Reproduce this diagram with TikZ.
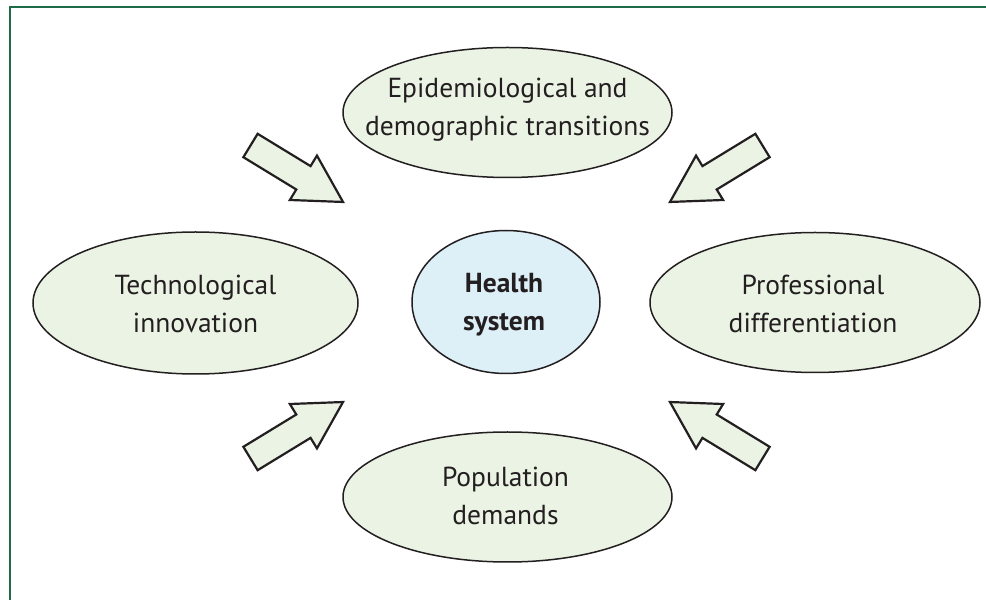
\documentclass[tikz,border=0pt]{standalone}
\usepackage{fontspec}
\setmainfont{PT Sans}
\usetikzlibrary{shapes.geometric}
\definecolor{framegreen}{HTML}{1F6B48}
\definecolor{palegreen}{HTML}{EBF3E4}
\definecolor{paleblue}{HTML}{DDEFF7}
\definecolor{ink}{HTML}{231F20}
\tikzset{
  oval/.style={ellipse, draw=ink, line width=1.5pt, fill=palegreen, inner sep=0pt},
  centreoval/.style={oval, fill=paleblue},
  ovaltext/.style={inner sep=0pt, align=center, text=ink, font=\fontsize{27.5}{38}\selectfont},
  centretext/.style={ovaltext, font=\fontsize{27.5}{38}\selectfont\bfseries},
  arrowbody/.style={draw=ink, line width=2.2pt, fill=palegreen, line join=miter},
  blockarrow/.pic={\draw[arrowbody] (0,-13.7) -- (62,-13.7) -- (62,-26) -- (108.4,0)
    -- (62,26) -- (62,13.7) -- (0,13.7) -- cycle;}
}
\begin{document}
\begin{tikzpicture}[x=1pt,y=1pt]
\useasboundingbox (0,0) rectangle (986,600);
\draw[framegreen, line width=2pt] (9.5,0) -- (9.5,592.5) -- (986,592.5);

\node[oval, minimum width=329pt, minimum height=130pt] (epi) at (507.5,487.5) {};
\node[ovaltext] (epitext) at ([yshift=3pt]epi.center) {Epidemiological and\\demographic transitions};
\node[oval, minimum width=325pt, minimum height=142pt] (tech) at (195.5,297) {};
\node[ovaltext] (techtext) at ([yshift=-1pt]tech.center) {Technological\\innovation};
\node[centreoval, minimum width=188pt, minimum height=143pt] (health) at (506,298) {};
\node[centretext] (healthtext) at ([yshift=-3pt, xshift=-2pt]health.center) {Health\\system};
\node[oval, minimum width=330pt, minimum height=140pt] (prof) at (815,297.5) {};
\node[ovaltext] (proftext) at ([yshift=-1pt, xshift=-2pt]prof.center) {Professional\\differentiation};
\node[oval, minimum width=329pt, minimum height=130pt] (pop) at (507.5,103) {};
\node[ovaltext] (poptext) at ([yshift=1pt, xshift=-2pt]pop.center) {Population\\demands};

\coordinate (tl) at (250.5,454.5);
\coordinate (tr) at (762.5,454.5);
\coordinate (bl) at (250.5,141.5);
\coordinate (br) at (762.5,141.5);
\pic[rotate=-31.4] at (tl) {blockarrow};
\pic[rotate=211.4] at (tr) {blockarrow};
\pic[rotate=31.4] at (bl) {blockarrow};
\pic[rotate=148.6] at (br) {blockarrow};
\end{tikzpicture}
\end{document}
